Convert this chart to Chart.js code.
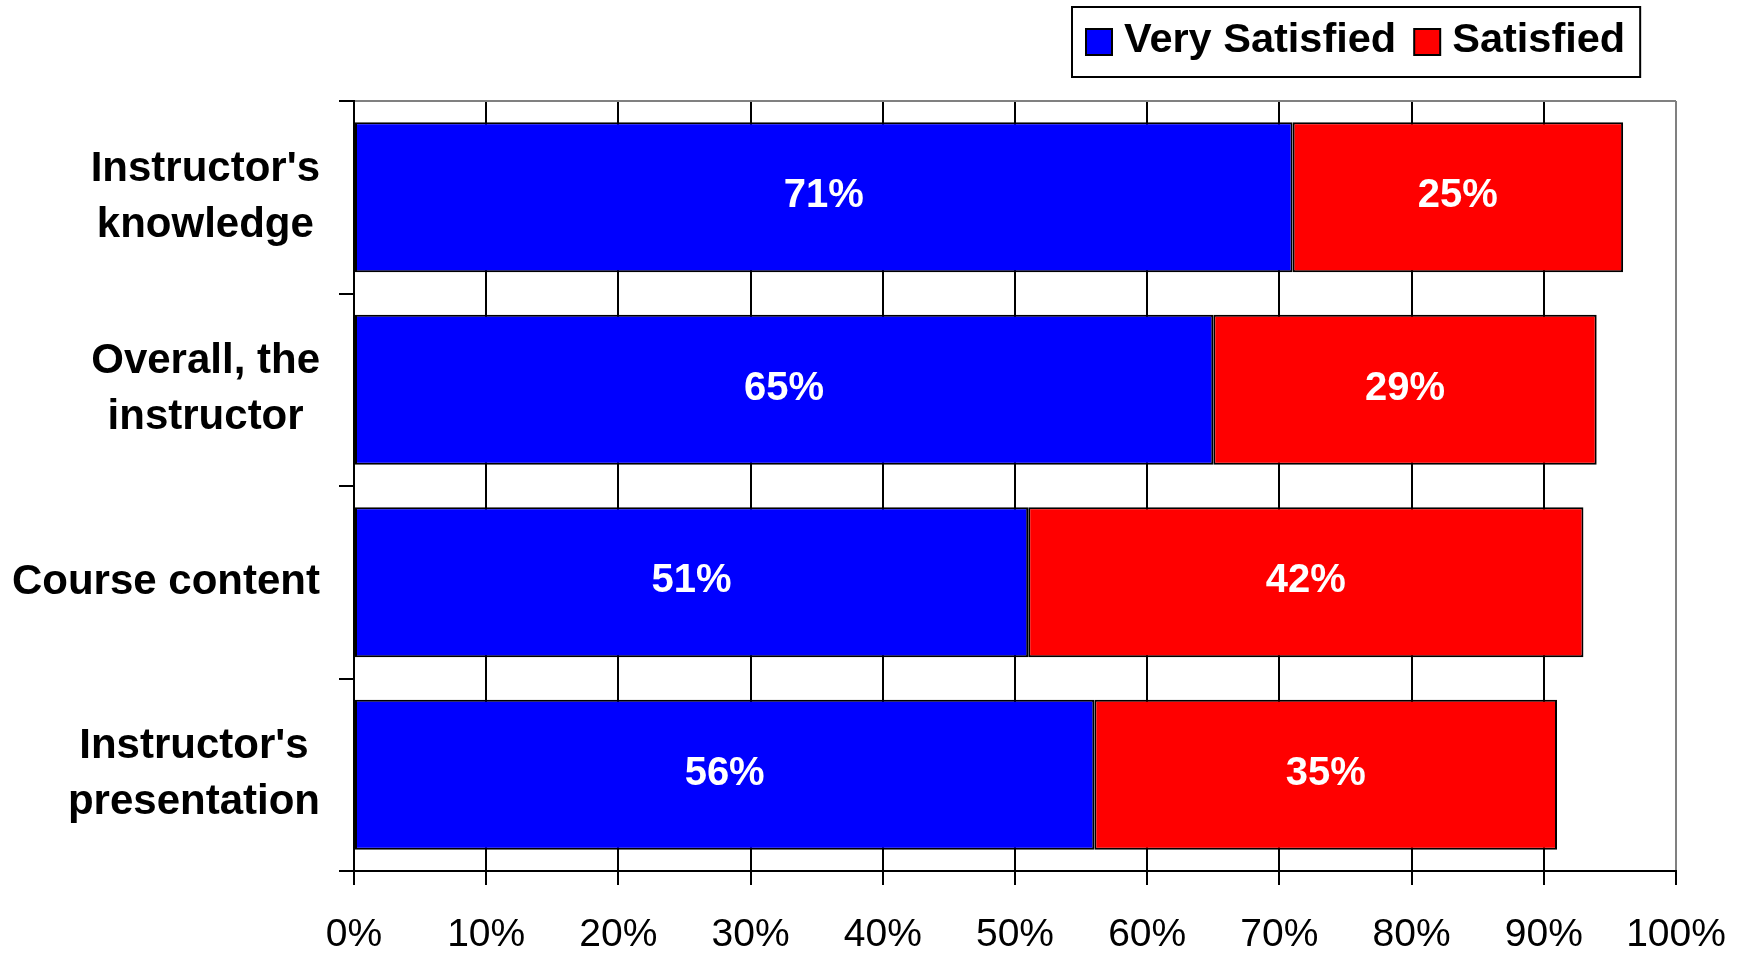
<!DOCTYPE html>
<html lang="en">
<head>
  <meta charset="UTF-8" />
  <title>Course Satisfaction</title>
  <script src="https://cdn.jsdelivr.net/npm/chart.js"></script>
  <style>
    html, body { margin: 0; padding: 0; background: #fff; }
    #wrap { width: 1747px; height: 955px; }
  </style>
</head>
<body>
  <div id="wrap"><canvas id="surveyChart" width="1747" height="955"></canvas></div>

  <script>
    // survey answers, percent of respondents
    const categories = [
      ["Instructor's", "knowledge"],
      ["Overall, the", "instructor"],
      ["Course content"],
      ["Instructor's", "presentation"]
    ];
    const seriesNames = ['Very Satisfied', 'Satisfied'];
    const verySatisfied = [71, 65, 51, 56];
    const satisfied = [25, 29, 42, 35];
    const xTickValues = [0, 10, 20, 30, 40, 50, 60, 70, 80, 90, 100];

    const FONT = '"Liberation Sans", Arial, sans-serif';

    // category names: lines centred on each other, block right-aligned by the axis
    const categoryLabels = {
      id: 'categoryLabels',
      afterDraw(chart) {
        const ctx = chart.ctx;
        const yScale = chart.scales.y;
        const right = chart.chartArea.left - 34;
        const lineH = 56;
        ctx.save();
        ctx.font = 'bold 42px ' + FONT;
        ctx.fillStyle = '#000';
        ctx.textAlign = 'center';
        ctx.textBaseline = 'middle';
        chart.data.labels.forEach((lines, i) => {
          const w = Math.max(...lines.map(l => ctx.measureText(l).width));
          const cx = right - w / 2;
          const cy = yScale.getPixelForValue(i);
          lines.forEach((l, j) => {
            ctx.fillText(l, cx, cy + (j - (lines.length - 1) / 2) * lineH);
          });
        });
        ctx.restore();
      }
    };

    // white percentage in the middle of each bar segment
    const valueLabels = {
      id: 'valueLabels',
      afterDatasetsDraw(chart) {
        const ctx = chart.ctx;
        ctx.save();
        ctx.font = 'bold 40px ' + FONT;
        ctx.fillStyle = '#fff';
        ctx.textAlign = 'center';
        ctx.textBaseline = 'middle';
        chart.data.datasets.forEach((ds, di) => {
          chart.getDatasetMeta(di).data.forEach((bar, i) => {
            ctx.fillText(ds.data[i] + '%', (bar.x + bar.base) / 2, bar.y - 1);
          });
        });
        ctx.restore();
      }
    };

    // legend in a framed box at the top right
    const boxedLegend = {
      id: 'boxedLegend',
      afterDraw(chart) {
        const ctx = chart.ctx;
        const left = 1072, top = 7, h = 70;
        const sw = 26, padL = 14, padR = 15, gap = 12, itemGap = 18;
        ctx.save();
        ctx.font = 'bold 41.5px ' + FONT;
        const items = chart.data.datasets.map(ds => ({
          text: ds.label, color: ds.backgroundColor, w: ctx.measureText(ds.label).width
        }));
        const total = padL + padR + items.reduce((s, it) => s + sw + gap + it.w, 0) + itemGap * (items.length - 1);
        ctx.fillStyle = '#fff';
        ctx.fillRect(left, top, total, h);
        ctx.lineWidth = 2;
        ctx.strokeStyle = '#000';
        ctx.strokeRect(left, top, total, h);
        const cy = top + h / 2;
        let x = left + padL;
        ctx.textBaseline = 'middle';
        ctx.textAlign = 'left';
        items.forEach(it => {
          ctx.fillStyle = it.color;
          ctx.fillRect(x, cy - sw / 2, sw, sw);
          ctx.strokeRect(x, cy - sw / 2, sw, sw);
          x += sw + gap;
          ctx.fillStyle = '#000';
          ctx.fillText(it.text, x, cy - 1);
          x += it.w + itemGap;
        });
        ctx.restore();
      }
    };

    new Chart(document.getElementById('surveyChart'), {
      type: 'bar',
      data: {
        labels: categories,
        datasets: [
          { label: seriesNames[0], data: verySatisfied, backgroundColor: '#0000ff' },
          { label: seriesNames[1], data: satisfied, backgroundColor: '#ff0000' }
        ]
      },
      options: {
        indexAxis: 'y',
        responsive: false,
        animation: false,
        layout: { padding: { top: 101, right: 71, bottom: 0, left: 0 } },
        datasets: {
          bar: {
            borderColor: '#000',
            borderWidth: 2,
            borderSkipped: false,
            barPercentage: 0.78,
            categoryPercentage: 1
          }
        },
        plugins: { legend: { display: false }, tooltip: { enabled: false } },
        scales: {
          x: {
            stacked: true,
            min: 0,
            max: 100,
            afterBuildTicks: s => { s.ticks = xTickValues.map(v => ({ value: v })); },
            afterFit: s => {
              s.height = 84;
              // the end labels fit inside the page margins already
              s.paddingLeft = 0;
              s.paddingRight = 0;
            },
            grid: {
              color: c => c.index === xTickValues.length - 1 ? '#808080' : '#000',
              lineWidth: 2,
              tickColor: '#000',
              tickLength: 14
            },
            border: { color: '#000', width: 2 },
            ticks: {
              color: '#000',
              font: { family: FONT, size: 39, lineHeight: 1.2 },
              padding: 27,
              maxRotation: 0,
              autoSkip: false,
              callback: v => v + '%'
            }
          },
          y: {
            stacked: true,
            afterFit: s => { s.width = 354; },
            grid: {
              color: c => c.index === 0 ? '#808080' : 'rgba(0,0,0,0)',
              lineWidth: 2,
              tickColor: '#000',
              tickLength: 15,
              offset: true
            },
            border: { color: '#000', width: 2 },
            ticks: { display: false }
          }
        }
      },
      plugins: [categoryLabels, valueLabels, boxedLegend]
    });
  </script>
</body>
</html>
